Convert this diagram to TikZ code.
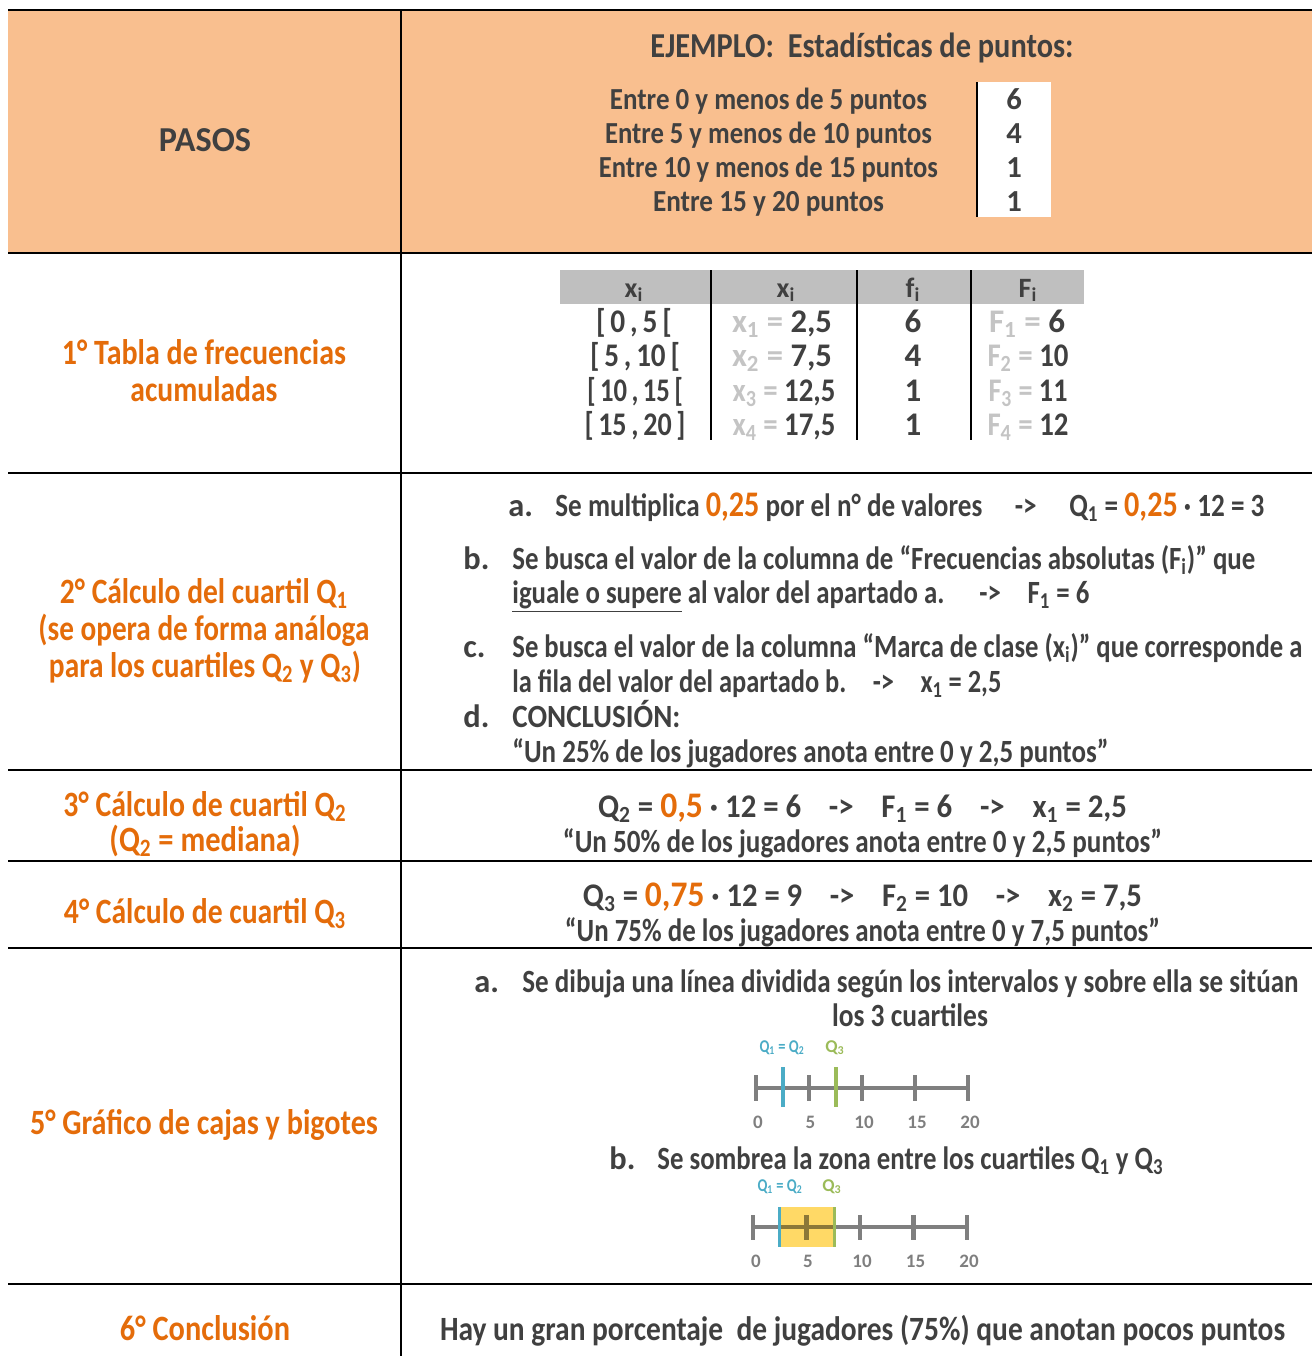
\documentclass[tikz,border=0pt]{standalone}
\usepackage{fontspec}
\usepackage{graphicx}
\setmainfont{Carlito}
\definecolor{hdr}{HTML}{F9BF8F}
\definecolor{dk}{HTML}{404040}
\definecolor{org}{HTML}{E46C0A}
\definecolor{lg}{HTML}{BFBFBF}
\definecolor{tg}{HTML}{C4C4C4}
\definecolor{qb}{HTML}{4BACC6}
\definecolor{qg}{HTML}{9BBB59}
\definecolor{ng}{HTML}{7F7F7F}
\definecolor{yl}{HTML}{FFD966}
\definecolor{ol}{HTML}{8C7838}
\newdimen\pxu \pxu=0.5pt
\newcommand\fw[2]{\resizebox{#1\pxu}{\height}{#2}}
\newcommand\sbx[1]{\textsubscript{#1}}
\newcommand\arr{\hspace{0.9em}->\hspace{0.9em}}
\tikzset{
  tx/.style={inner sep=0pt, anchor=base, text=dk, font=\bfseries\fontsize{16.2}{19}\selectfont},
  txl/.style={tx, anchor=base west},
  oh/.style={tx, text=org, font=\bfseries\fontsize{17.8}{21}\selectfont},
  hd/.style={tx, font=\bfseries\fontsize{17.5}{21}\selectfont},
  en/.style={tx, font=\bfseries\fontsize{15.3}{18}\selectfont},
  tb/.style={tx, font=\bfseries\fontsize{16.5}{19}\selectfont},
  th/.style={tx, font=\bfseries\fontsize{14}{16}\selectfont},
  nl/.style={tx, text=ng, font=\bfseries\fontsize{9.5}{11}\selectfont},
  ql/.style={tx, font=\bfseries\fontsize{9}{10}\selectfont},
  rule/.style={line width=1pt, black},
  axis/.style={line width=2.1pt, ng},
}
\begin{document}
\begin{tikzpicture}[x=0.5pt,y=-0.5pt]
\useasboundingbox (0,0) rectangle (1312,1356);
% header background
\fill[hdr] (8,10) rectangle (1312,253);
\fill[white] (977,82) rectangle (1051,217);
\draw[rule] (977,82) -- (977,217);
% grid
\foreach \yy in {10,253,473,770,861,948,1284} \draw[rule] (8,\yy) -- (1312,\yy);
\draw[rule] (401,10) -- (401,1356);
% header texts
\node[hd] (pasos) at (205,151) {\fw{92}{PASOS}};
\node[hd] (ej) at (862,57) {\fw{423}{EJEMPLO:\ \ Estadísticas de puntos:}};
\node[en] (e1) at (768.5,109) {\fw{317}{Entre 0 y menos de 5 puntos}};
\node[en] (e2) at (768.5,143) {\fw{327}{Entre 5 y menos de 10 puntos}};
\node[en] (e3) at (768.5,177) {\fw{339}{Entre 10 y menos de 15 puntos}};
\node[en] (e4) at (768.5,211) {\fw{231}{Entre 15 y 20 puntos}};
\node[en] (v1) at (1014,109) {6};
\node[en] (v2) at (1014,143) {4};
\node[en] (v3) at (1014,177) {1};
\node[en] (v4) at (1014,211) {1};
% row 1
\node[oh] (h1a) at (204,364) {\fw{284}{1° Tabla de frecuencias}};
\node[oh] (h1b) at (204,401) {\fw{147}{acumuladas}};
\fill[lg] (560,270) rectangle (1084,304);
\foreach \xx in {711,857,971} \draw[rule] (\xx,270) -- (\xx,440);
\node[th] (c1h) at (634,297) {x\sbx{i}};
\node[th] (c2h) at (786,297) {x\sbx{i}};
\node[th] (c3h) at (913,297) {f\sbx{i}};
\node[th] (c4h) at (1028,297) {F\sbx{i}};
\node[tb] (a1) at (634,332) {\fw{76}{[\,0\,,\,5\,[}};
\node[tb] (a2) at (635,366.5) {\fw{90}{[\,5\,,\,10\,[}};
\node[tb] (a3) at (635,401) {\fw{96}{[\,10\,,\,15\,[}};
\node[tb] (a4) at (635,435.5) {\fw{101}{[\,15\,,\,20\,]}};
\node[tb] (b1) at (782,332) {\fw{100}{{\color{tg}x\sbx{1} =} 2,5}};
\node[tb] (b2) at (782,366.5) {\fw{100}{{\color{tg}x\sbx{2} =} 7,5}};
\node[tb] (b3) at (784,401) {\fw{103}{{\color{tg}x\sbx{3} =} 12,5}};
\node[tb] (b4) at (784,435.5) {\fw{103}{{\color{tg}x\sbx{4} =} 17,5}};
\node[tb] (d1) at (913,332) {6};
\node[tb] (d2) at (913,366.5) {4};
\node[tb] (d3) at (913,401) {1};
\node[tb] (d4) at (913,435.5) {1};
\node[tb] (g1) at (1027,332) {\fw{76}{{\color{tg}F\sbx{1} =} 6}};
\node[tb] (g2) at (1028,366.5) {\fw{81}{{\color{tg}F\sbx{2} =} 10}};
\node[tb] (g3) at (1028,401) {\fw{79}{{\color{tg}F\sbx{3} =} 11}};
\node[tb] (g4) at (1028,435.5) {\fw{81}{{\color{tg}F\sbx{4} =} 12}};
% row 2
\node[oh] (h2a) at (204,603) {\fw{288}{2° Cálculo del cuartil Q\sbx{1}}};
\node[oh] (h2b) at (204,640) {\fw{331}{(se opera de forma análoga}};
\node[oh] (h2c) at (205,677) {\fw{312}{para los cuartiles Q\sbx{2} y Q\sbx{3})}};
\node[txl] (la) at (508,516) {a.};
\node[txl] (ta) at (555,516) {\fw{709}{Se multiplica {\fontsize{18}{20}\selectfont\color{org}0,25} por el n° de valores\hspace{1.2em}->\hspace{1.2em}Q\sbx{1} = {\fontsize{18}{20}\selectfont\color{org}0,25} · 12 = 3}};
\node[txl] (lb) at (463,569) {b.};
\node[txl] (tb1) at (512,569) {\fw{743}{Se busca el valor de la columna de “Frecuencias absolutas (F\sbx{i})” que}};
\node[txl] (tb2) at (512,603) {\fw{577}{\underline{iguale o supere} al valor del apartado a.\hspace{1.3em}->\hspace{1em}F\sbx{1} = 6}};
\node[txl] (lc) at (463,657) {c.};
\node[txl] (tc1) at (512,657) {\fw{790}{Se busca el valor de la columna “Marca de clase (x\sbx{i})” que corresponde a}};
\node[txl] (tc2) at (512,692) {\fw{489}{la fila del valor del apartado b.\hspace{1em}->\hspace{1em}x\sbx{1} = 2,5}};
\node[txl] (ld) at (463,727) {d.};
\node[txl] (td1) at (512,727) {\fw{168}{CONCLUSIÓN:}};
\node[txl] (td2) at (512,762) {\fw{596}{“Un 25\% de los jugadores anota entre 0 y 2,5 puntos”}};
% row 3
\node[oh] (h3a) at (205,816) {\fw{283}{3° Cálculo de cuartil Q\sbx{2}}};
\node[oh] (h3b) at (205,851) {\fw{191}{(Q\sbx{2} = mediana)}};
\node[tb] (q2) at (862.5,817) {\fw{529}{Q\sbx{2} = {\fontsize{18}{20}\selectfont\color{org}0,5} · 12 = 6\arr F\sbx{1} = 6\arr x\sbx{1} = 2,5}};
\node[tx] (u2) at (862.5,852) {\fw{599}{“Un 50\% de los jugadores anota entre 0 y 2,5 puntos”}};
% row 4
\node[oh] (h4) at (205,923) {\fw{282}{4° Cálculo de cuartil Q\sbx{3}}};
\node[tb] (q3) at (862.5,906) {\fw{559}{Q\sbx{3} = {\fontsize{18}{20}\selectfont\color{org}0,75} · 12 = 9\arr F\sbx{2} = 10\arr x\sbx{2} = 7,5}};
\node[tx] (u3) at (862.5,941) {\fw{595}{“Un 75\% de los jugadores anota entre 0 y 7,5 puntos”}};
% row 5
\node[oh] (h5) at (204,1134) {\fw{348}{5° Gráfico de cajas y bigotes}};
\node[txl] (l5a) at (474,992) {a.};
\node[txl] (t5a) at (522,992) {\fw{776}{Se dibuja una línea dividida según los intervalos y sobre ella se sitúan}};
\node[tx] (t5b) at (910,1026) {\fw{156}{los 3 cuartiles}};
\node[txl] (l5b) at (609,1169) {b.};
\node[txl] (t5c) at (657,1169) {\fw{506}{Se sombrea la zona entre los cuartiles Q\sbx{1} y Q\sbx{3}}};
% number line 1
\draw[axis] (756,1088) -- (968,1088);
\foreach \xx in {756,809,862,915,968} \draw[axis] (\xx,1075) -- (\xx,1101);
\draw[line width=1.8pt, qb] (783,1067) -- (783,1107);
\draw[line width=1.8pt, qg] (836,1067) -- (836,1107);
\node[ql, text=qb] (p1) at (782,1052) {\fw{45}{Q\sbx{1} = Q\sbx{2}}};
\node[ql, text=qg] (p2) at (835,1052) {Q\sbx{3}};
\node[nl] (n10) at (758,1128) {0};
\node[nl] (n11) at (810.5,1128) {5};
\node[nl] (n12) at (864,1128) {10};
\node[nl] (n13) at (917,1128) {15};
\node[nl] (n14) at (970,1128) {20};
% number line 2
\draw[axis] (753,1227) -- (967,1227);
\foreach \xx in {753,806.5,860,913.5,967} \draw[axis] (\xx,1215) -- (\xx,1240);
\fill[yl] (779,1207) rectangle (834,1247);
\draw[axis, ol] (779,1227) -- (834,1227);
\draw[axis, ol] (806.5,1215) -- (806.5,1240);
\draw[line width=1.5pt, qb] (779,1207) -- (779,1247);
\draw[line width=1.5pt, qg] (834,1207) -- (834,1247);
\node[ql, text=qb] (r1) at (780,1191) {\fw{45}{Q\sbx{1} = Q\sbx{2}}};
\node[ql, text=qg] (r2) at (832,1191) {Q\sbx{3}};
\node[nl] (n20) at (756,1267) {0};
\node[nl] (n21) at (808,1267) {5};
\node[nl] (n22) at (862,1267) {10};
\node[nl] (n23) at (915.5,1267) {15};
\node[nl] (n24) at (969,1267) {20};
% row 6
\node[oh] (h6) at (205,1340) {\fw{170}{6° Conclusión}};
\node[tx, font=\bfseries\fontsize{17}{20}\selectfont] (t6) at (862.5,1340) {\fw{845}{Hay un gran porcentaje\ \ de jugadores (75\%) que anotan pocos puntos}};
\end{tikzpicture}
\end{document}
